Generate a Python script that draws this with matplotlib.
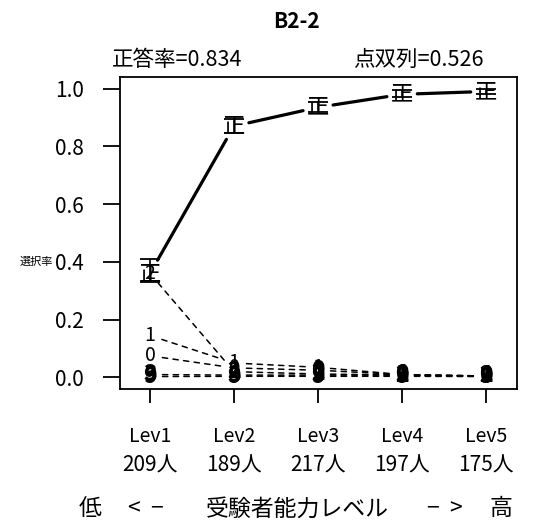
import matplotlib
matplotlib.use("Agg")
import matplotlib.pyplot as plt
from matplotlib.transforms import blended_transform_factory

plt.rcParams["font.family"] = ["Noto Sans CJK JP", "DejaVu Sans"]

# ---- data ----
levels = [1, 2, 3, 4, 5]
level_names = ["Lev1", "Lev2", "Lev3", "Lev4", "Lev5"]
level_counts = ["209人", "189人", "217人", "197人", "175人"]

correct = [0.36, 0.87, 0.935, 0.98, 0.99]
correct_lo = [0.33, 0.845, 0.92, 0.97, 0.98]
correct_hi = [0.41, 0.895, 0.955, 0.995, 1.0]

opt_1 = [0.145, 0.05, 0.035, 0.01, 0.005]
opt_0 = [0.075, 0.033, 0.025, 0.01, 0.005]
opt_2 = [0.36, 0.02, 0.012, 0.008, 0.005]
opt_3 = [0.01, 0.008, 0.008, 0.008, 0.004]
opt_9 = [0.003, 0.004, 0.004, 0.004, 0.003]

distractors = {"1": opt_1, "0": opt_0, "2": opt_2, "3": opt_3, "9": opt_9}

title = "B2-2"
p_correct = 0.834
pbis = 0.526

# ---- figure ----
fig = plt.figure(figsize=(5.55, 5.22), dpi=100)
ax = fig.add_axes([0.2162, 0.2548, 0.7153, 0.5977])
ax.set_xlim(0.643, 5.369)
ax.set_ylim(-0.04, 1.04)


def seg(x, y, lw, ls, shrink=9):
    # R type="b": line segments stop short of the point labels
    for i in range(len(x) - 1):
        ax.annotate("", xy=(x[i + 1], y[i + 1]), xytext=(x[i], y[i]),
                    arrowprops=dict(arrowstyle="-", lw=lw, linestyle=ls, color="black",
                                    shrinkA=shrink, shrinkB=shrink))


for name, vals in distractors.items():
    seg(levels, vals, 1.1, (0, (3.5, 3.5)))
    for xv, yv in zip(levels, vals):
        small = yv < 0.03
        ax.text(xv, yv, name, ha="center", va="center", fontsize=16 if small else 14,
                fontweight="heavy" if small else "normal")

seg(levels, correct, 2.3, "-", shrink=11)
ax.errorbar(levels, correct,
            yerr=[[c - l for c, l in zip(correct, correct_lo)],
                  [h - c for c, h in zip(correct, correct_hi)]],
            fmt="none", ecolor="black", elinewidth=1.2, capsize=7, capthick=1.3)
for xv, yv in zip(levels, correct):
    ax.text(xv, yv, "正", ha="center", va="center", fontsize=16)

yt = [0.0, 0.2, 0.4, 0.6, 0.8, 1.0]
ax.set_xticks(levels)
ax.set_xticklabels([])
ax.set_yticks(yt)
ax.set_yticklabels([f"{v:.1f}" for v in yt], fontsize=15)
ax.tick_params(axis="y", length=12, width=1.3, pad=14)
ax.tick_params(axis="x", length=10, width=1.3)
for s in ax.spines.values():
    s.set_linewidth(1.3)

fig.text(0.066, 0.498, "選択率", fontsize=8, ha="center", va="center")

# header
fig.text(0.535, 0.958, title, fontsize=15, fontweight="bold", ha="center", va="center")
fig.text(0.202, 0.885, f"正答率={p_correct:.3f}", fontsize=15.5, ha="left", va="center")
fig.text(0.872, 0.885, f"点双列={pbis:.3f}", fontsize=15.5, ha="right", va="center")

# level labels under the axis
tr = blended_transform_factory(ax.transData, fig.transFigure)
for xv, n, c in zip(levels, level_names, level_counts):
    ax.text(xv, 0.163, n, transform=tr, ha="center", va="center", fontsize=14, clip_on=False)
    ax.text(xv, 0.109, c, transform=tr, ha="center", va="center", fontsize=15, clip_on=False)

fig.text(0.162, 0.025, "低", fontsize=16.5, ha="center", va="center")
fig.text(0.263, 0.025, "<  −", fontsize=16.5, ha="center", va="center")
fig.text(0.535, 0.025, "受験者能力レベル", fontsize=16.5, ha="center", va="center")
fig.text(0.802, 0.025, "−  >", fontsize=16.5, ha="center", va="center")
fig.text(0.903, 0.025, "高", fontsize=16.5, ha="center", va="center")

fig.savefig("out.png", dpi=100)
